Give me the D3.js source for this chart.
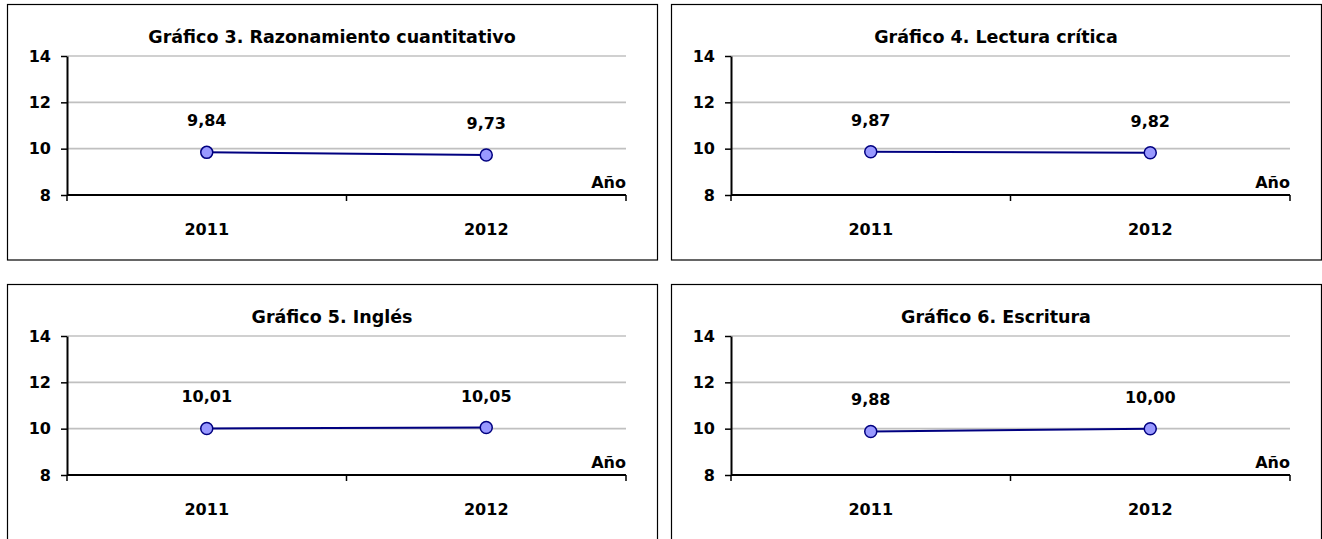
<!DOCTYPE html>
<html>
<head>
<meta charset="utf-8">
<script src="https://cdn.jsdelivr.net/npm/d3@7"></script>
<style>
  html, body { margin: 0; padding: 0; background: #fff; }
  svg text { font-family: "DejaVu Sans", sans-serif; font-weight: bold; fill: #000; }
</style>
</head>
<body>
<svg id="chart" width="1322" height="539"></svg>
<script>
// Años evaluados
const years = ["2011", "2012"];

// Promedios por prueba
const razonamiento = [9.84, 9.73];
const lectura = [9.87, 9.82];
const ingles = [10.01, 10.05];
const escritura = [9.88, 10.00];

const titles = [
  "Gráfico 3. Razonamiento cuantitativo",
  "Gráfico 4. Lectura crítica",
  "Gráfico 5. Inglés",
  "Gráfico 6. Escritura"
];
const yTicks = [8, 10, 12, 14];
const axisTitle = "Año";

const panels = [
  { title: titles[0], values: razonamiento, dx: 0, dy: 0 },
  { title: titles[1], values: lectura, dx: 664, dy: 0 },
  { title: titles[2], values: ingles, dx: 0, dy: 280 },
  { title: titles[3], values: escritura, dx: 664, dy: 280 }
];

const fmt = d3.formatLocale({ decimal: ",", thousands: ".", grouping: [3], currency: ["$", ""] }).format(".2f");

const svg = d3.select("#chart");

// Shared scales for every small chart (coordinates are local to each panel)
const x = d3.scaleBand().domain(years).range([67, 626]);
const y = d3.scaleLinear().domain([8, 14]).range([195, 56]);

panels.forEach(p => {
  const g = svg.append("g").attr("transform", `translate(${p.dx},${p.dy})`);

  // Frame
  g.append("rect")
    .attr("x", 7.5).attr("y", 4.5)
    .attr("width", 650).attr("height", 255.5)
    .attr("fill", "#fff").attr("stroke", "#000").attr("stroke-width", 1.2);

  // Title
  g.append("text")
    .attr("x", 332).attr("y", 43)
    .attr("text-anchor", "middle")
    .style("font-size", "17.5px")
    .text(p.title);

  // Horizontal gridlines
  g.append("g").selectAll("line")
    .data(yTicks.filter(t => t > y.domain()[0]))
    .join("line")
    .attr("x1", x.range()[0]).attr("x2", x.range()[1])
    .attr("y1", d => y(d)).attr("y2", d => y(d))
    .attr("stroke", "#c0c0c0").attr("stroke-width", 1.6);

  // Y axis
  const yAxis = g.append("g")
    .attr("transform", `translate(${x.range()[0]},0)`)
    .call(d3.axisLeft(y).tickValues(yTicks).tickFormat(d3.format("d"))
      .tickSizeInner(6).tickSizeOuter(0).tickPadding(10));
  yAxis.select(".domain").attr("stroke", "#000").attr("stroke-width", 2);
  yAxis.selectAll(".tick line").attr("stroke", "#000").attr("stroke-width", 1.5);
  yAxis.selectAll(".tick text")
    .style("font-family", "'DejaVu Sans', sans-serif")
    .style("font-weight", "bold")
    .style("font-size", "16px")
    .attr("fill", "#000");

  // X axis: ticks sit on category boundaries, labels centred in each band
  const base = y(y.domain()[0]);
  g.append("line")
    .attr("x1", x.range()[0]).attr("x2", x.range()[1])
    .attr("y1", base).attr("y2", base)
    .attr("stroke", "#000").attr("stroke-width", 2);
  const bounds = years.map(d => x(d)).concat([x(years[years.length - 1]) + x.bandwidth()]);
  g.append("g").selectAll("line")
    .data(bounds)
    .join("line")
    .attr("x1", d => d).attr("x2", d => d)
    .attr("y1", base).attr("y2", base + 6)
    .attr("stroke", "#000").attr("stroke-width", 1.5);
  g.append("g").selectAll("text")
    .data(years)
    .join("text")
    .attr("x", d => x(d) + x.bandwidth() / 2)
    .attr("y", 235)
    .attr("text-anchor", "middle")
    .style("font-size", "16px")
    .text(d => d);

  // Axis title
  g.append("text")
    .attr("x", x.range()[1]).attr("y", 188)
    .attr("text-anchor", "end")
    .style("font-size", "16px")
    .text(axisTitle);

  const pts = years.map((d, i) => ({ year: d, value: p.values[i] }));

  // Series line
  g.append("path")
    .datum(pts)
    .attr("fill", "none")
    .attr("stroke", "#000080")
    .attr("stroke-width", 2)
    .attr("d", d3.line().x(d => x(d.year) + x.bandwidth() / 2).y(d => y(d.value)));

  // Markers
  g.append("g").selectAll("circle")
    .data(pts)
    .join("circle")
    .attr("cx", d => x(d.year) + x.bandwidth() / 2)
    .attr("cy", d => y(d.value))
    .attr("r", 6)
    .attr("fill", "#9999ff")
    .attr("stroke", "#000080")
    .attr("stroke-width", 1.5);

  // Value labels
  g.append("g").selectAll("text")
    .data(pts)
    .join("text")
    .attr("x", d => x(d.year) + x.bandwidth() / 2)
    .attr("y", d => y(d.value) - 26)
    .attr("text-anchor", "middle")
    .style("font-size", "16px")
    .text(d => fmt(d.value));
});
</script>
</body>
</html>
